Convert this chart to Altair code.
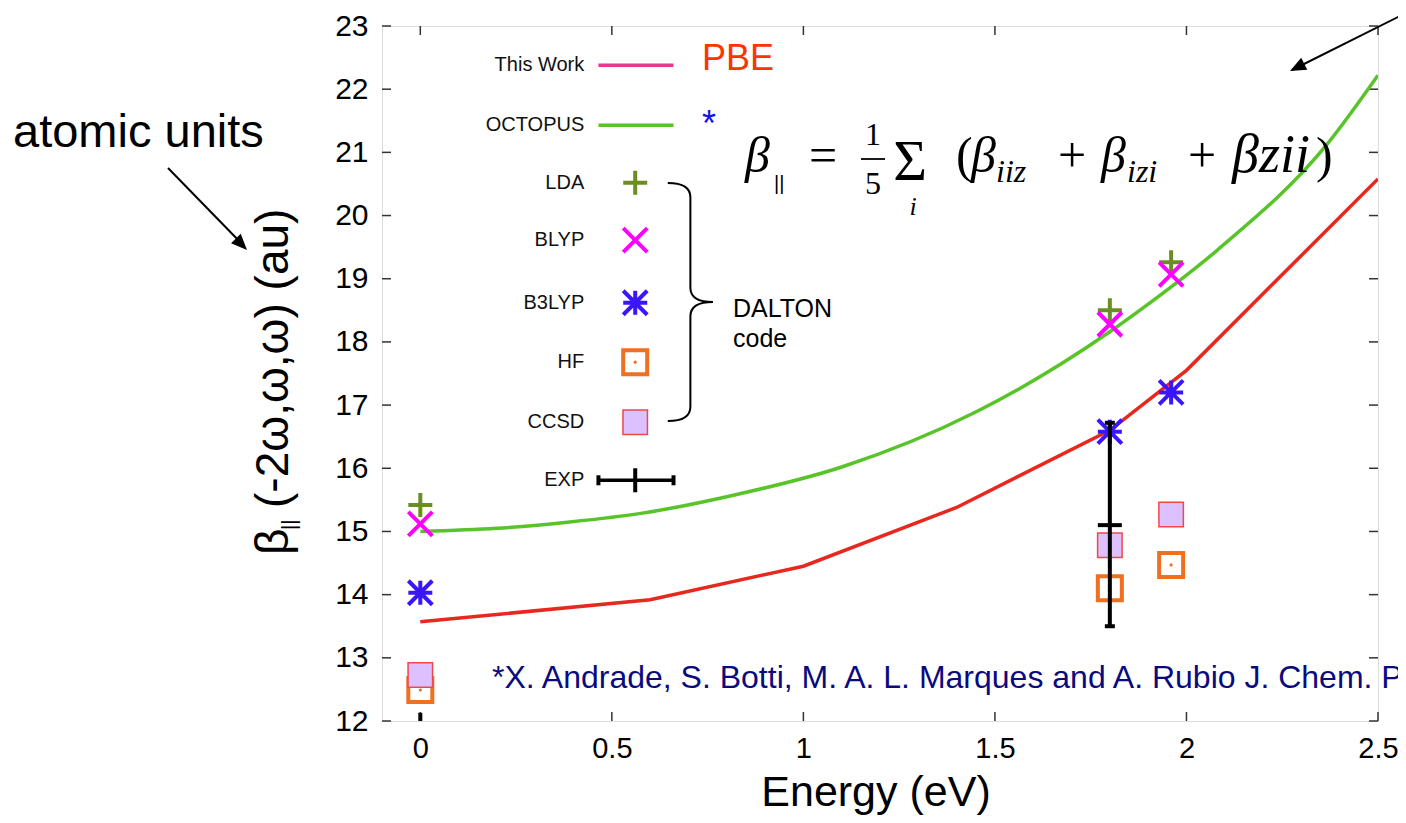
import altair as alt
import pandas as pd

# ---------------- data ----------------
pbe_x = [0.0, 0.6, 1.0, 1.4, 1.8, 2.0, 2.5]
pbe_y = [13.57, 13.92, 14.45, 15.38, 16.6, 17.55, 20.58]

oct_x = [0.0, 0.2, 0.39, 0.58, 0.8, 1.1, 1.45, 1.8, 1.885, 2.08, 2.37, 2.5]
oct_y = [15.0, 15.05, 15.15, 15.29, 15.55, 16.02, 16.89, 18.16, 18.53, 19.45, 21.15, 22.22]

dalton_x = [0.0, 1.8, 1.96]
lda_y = [15.42, 18.5, 19.26]
blyp_y = [15.12, 18.28, 19.07]
b3lyp_y = [14.03, 16.58, 17.2]
hf_y = [12.49, 14.1, 14.47]
ccsd_y = [12.73, 14.78, 15.27]

exp_x = [1.8]
exp_y = [15.1]
exp_lo = [13.5]
exp_hi = [16.72]
exp0_x = [0.0]
exp0_lo = [12.0]
exp0_hi = [12.13]

x_ticks = [0, 0.5, 1, 1.5, 2, 2.5]
y_ticks = list(range(12, 24))

legend_labels = ["This Work", "OCTOPUS", "LDA", "BLYP", "B3LYP", "HF", "CCSD", "EXP"]
legend_y = [22.38, 21.43, 20.52, 19.61, 18.62, 17.68, 16.73, 15.81]
legend_label_x = 0.428
legend_sym_x = 0.561
legend_line_x0 = 0.465
legend_line_x1 = 0.661

# ---------------- styling ----------------
SANS = "Liberation Sans"
SERIF = "Liberation Serif"
OX, OY = 382, 26          # page position of plot origin
W, H = 996, 695

RED = "#e8281e"
GREEN = "#58c42a"
PINK = "#e8388c"
OLIVE = "#6b8e23"
MAGENTA = "#ff00ff"
BLUE = "#3a16ff"
ORANGE = "#ee7020"
LAVENDER = "#dcc0ff"
CCSD_EDGE = "#ee4848"

PLUS = "M -1 0 L 1 0 M 0 -1 L 0 1"
CROSS = "M -1 -1 L 1 1 M -1 1 L 1 -1"
STAR = PLUS + " " + CROSS
HBAR = "M -1 0 L 1 0"
VBAR = "M 0 -1 L 0 1"
BRACE = ("M -0.38 -1 Q -0.19 -1 -0.19 -0.88 L -0.19 -0.12 Q -0.19 0 0 0 "
         "Q -0.19 0 -0.19 0.12 L -0.19 0.88 Q -0.19 1 -0.38 1")
ARROWHEAD = "M 0 0 L -1 -0.42 L -1 0.42 Z"

XS = alt.Scale(domain=[-0.1, 2.5], nice=False, zero=False)
YS = alt.Scale(domain=[12, 23], nice=False, zero=False)
XAX = alt.Axis(values=x_ticks, format="~g", title=None, grid=False, domain=False, ticks=False,
               labelFontSize=29, labelFont=SANS, labelColor="black", labelPadding=13,
               labelFlush=False, labelOverlap=False)
YAX = alt.Axis(values=y_ticks, format="d", title=None, grid=False, domain=False, ticks=False,
               labelFontSize=30, labelFont=SANS, labelColor="black", labelPadding=14,
               labelOverlap=False)


def X(f="x"):
    return alt.X(f"{f}:Q", scale=XS, axis=XAX)


def Y(f="y"):
    return alt.Y(f"{f}:Q", scale=YS, axis=YAX)


def pts(xs, ys, shape, color, size=576, sw=4, filled=False, fill=None):
    df = pd.DataFrame({"x": xs, "y": ys})
    kw = dict(shape=shape, size=size, strokeWidth=sw, opacity=1, filled=filled)
    if filled:
        kw.update(fill=fill, stroke=color)
    else:
        kw.update(color=color)
    return alt.Chart(df).mark_point(**kw).encode(x=X(), y=Y())


def ptxt(text, px, py, size, color="black", align="left", baseline="alphabetic",
         angle=0, font=SANS, style="normal"):
    return alt.Chart(alt.Data(values=[{"t": text}])).mark_text(
        align=align, baseline=baseline, angle=angle, font=font, fontStyle=style,
        fontSize=size, color=color
    ).encode(x=alt.value(px - OX), y=alt.value(py - OY), text="t:N")


def prule(x0, y0, x1, y1, sw=2, color="black"):
    return alt.Chart(alt.Data(values=[{}])).mark_rule(color=color, strokeWidth=sw).encode(
        x=alt.value(x0 - OX), y=alt.value(y0 - OY), x2=alt.value(x1 - OX), y2=alt.value(y1 - OY))


def pshape(px, py, shape, size, angle=0, filled=True, color="black", sw=2):
    return alt.Chart(alt.Data(values=[{}])).mark_point(
        shape=shape, size=size, angle=angle, filled=filled, color=color,
        strokeWidth=sw, opacity=1
    ).encode(x=alt.value(px - OX), y=alt.value(py - OY))


layers = []

# inward ticks on all four sides
yt = pd.DataFrame({"y": y_ticks})
xt = pd.DataFrame({"x": x_ticks})
TC = "#333333"
layers.append(alt.Chart(yt).mark_rule(color=TC, strokeWidth=1.5).encode(
    y=Y(), x=alt.value(0), x2=alt.value(9)))
layers.append(alt.Chart(yt).mark_rule(color=TC, strokeWidth=1.5).encode(
    y=Y(), x=alt.value(W - 9), x2=alt.value(W)))
layers.append(alt.Chart(xt).mark_rule(color=TC, strokeWidth=1.5).encode(
    x=X(), y=alt.value(H - 9), y2=alt.value(H)))
layers.append(alt.Chart(xt).mark_rule(color=TC, strokeWidth=1.5).encode(
    x=X(), y=alt.value(0), y2=alt.value(9)))

# curves
layers.append(alt.Chart(pd.DataFrame({"x": pbe_x, "y": pbe_y})).mark_line(
    color=RED, strokeWidth=3.5, clip=True).encode(x=X(), y=Y()))
layers.append(alt.Chart(pd.DataFrame({"x": oct_x, "y": oct_y})).mark_line(
    color=GREEN, strokeWidth=3.5, interpolate="monotone", clip=True).encode(x=X(), y=Y()))

# DALTON points
layers.append(pts(dalton_x, lda_y, PLUS, OLIVE))
layers.append(pts(dalton_x, blyp_y, CROSS, MAGENTA))
layers.append(pts(dalton_x, b3lyp_y, STAR, BLUE))
layers.append(pts(dalton_x, hf_y, "square", ORANGE, size=576, sw=4))
layers.append(pts(dalton_x, hf_y, "circle", ORANGE, size=10, sw=0, filled=True, fill=ORANGE))
layers.append(pts(dalton_x, ccsd_y, "square", CCSD_EDGE, size=600, sw=1.5, filled=True, fill=LAVENDER))

# experiment
dexp = pd.DataFrame({"x": exp_x, "y": exp_y, "lo": exp_lo, "hi": exp_hi})
layers.append(alt.Chart(dexp).mark_rule(color="black", strokeWidth=4).encode(
    x=X(), y=Y("lo"), y2="hi:Q"))
layers.append(pts(exp_x, exp_lo, HBAR, "black", size=100, sw=4))
layers.append(pts(exp_x, exp_hi, HBAR, "black", size=100, sw=4))
layers.append(pts(exp_x, exp_y, HBAR, "black", size=576, sw=4))
dexp0 = pd.DataFrame({"x": exp0_x, "lo": exp0_lo, "hi": exp0_hi})
layers.append(alt.Chart(dexp0).mark_rule(color="black", strokeWidth=4).encode(
    x=X(), y=Y("lo"), y2="hi:Q"))

# ---------------- in-plot legend ----------------
dleg = pd.DataFrame({"x": [legend_label_x] * len(legend_labels), "y": legend_y, "t": legend_labels})
layers.append(alt.Chart(dleg).mark_text(align="right", baseline="middle", fontSize=20,
                                        font=SANS, color="#111111").encode(x=X(), y=Y(), text="t:N"))
dl_line = pd.DataFrame({"x": [legend_line_x0], "x2": [legend_line_x1], "y": [legend_y[0]]})
layers.append(alt.Chart(dl_line).mark_rule(color=PINK, strokeWidth=3.5).encode(
    x=X(), x2="x2:Q", y=Y()))
dl_line2 = pd.DataFrame({"x": [legend_line_x0], "x2": [legend_line_x1], "y": [legend_y[1]]})
layers.append(alt.Chart(dl_line2).mark_rule(color=GREEN, strokeWidth=3.5).encode(
    x=X(), x2="x2:Q", y=Y()))
layers.append(pts([legend_sym_x], [legend_y[2]], PLUS, OLIVE))
layers.append(pts([legend_sym_x], [legend_y[3]], CROSS, MAGENTA))
layers.append(pts([legend_sym_x], [legend_y[4]], STAR, BLUE))
layers.append(pts([legend_sym_x], [legend_y[5]], "square", ORANGE, size=576, sw=4))
layers.append(pts([legend_sym_x], [legend_y[5]], "circle", ORANGE, size=10, sw=0, filled=True, fill=ORANGE))
layers.append(pts([legend_sym_x], [legend_y[6]], "square", CCSD_EDGE, size=600, sw=1.5, filled=True, fill=LAVENDER))
dl_exp = pd.DataFrame({"x": [legend_line_x0], "x2": [legend_line_x1], "y": [legend_y[7]]})
layers.append(alt.Chart(dl_exp).mark_rule(color="black", strokeWidth=3.5).encode(
    x=X(), x2="x2:Q", y=Y()))
layers.append(pts([legend_line_x0, legend_line_x1], [legend_y[7]] * 2, VBAR, "black", size=100, sw=4))
layers.append(pts([legend_sym_x], [legend_y[7]], VBAR, "black", size=576, sw=4))

# ---------------- annotations ----------------
layers.append(ptxt("PBE", 702, 70, 36, color="#ff3300"))
layers.append(ptxt("*", 702, 136, 36, color="#1010ee"))
layers.append(pshape(713, 302, BRACE, 56644, filled=False, sw=2))
layers.append(ptxt("DALTON", 733, 317, 25))
layers.append(ptxt("code", 733, 347, 25))
layers.append(ptxt("*X. Andrade, S. Botti, M. A. L. Marques and A. Rubio J. Chem. Phys.",
                   492, 688, 32, color="#0a0a80"))

# formula
FB = 172
FS = 50
SS = 32
layers.append(ptxt("β", 745, FB, FS, font=SERIF, style="italic"))
layers.append(ptxt("||", 774, FB + 18, 20, font=SANS))
layers.append(ptxt("=", 823, FB, FS, align="center", font=SERIF))
layers.append(ptxt("1", 873, 145, 32, align="center", font=SERIF))
layers.append(prule(861, 159, 885, 159, sw=1.8))
layers.append(ptxt("5", 873, 194, 32, align="center", font=SERIF))
layers.append(ptxt("Σ", 910, 180, 58, align="center", font=SERIF))
layers.append(ptxt("i", 913, 215, 26, align="center", font=SERIF, style="italic"))
layers.append(ptxt("(", 956, FB, FS, font=SERIF))
layers.append(ptxt("β", 971, FB, FS, font=SERIF, style="italic"))
layers.append(ptxt("iiz", 996, FB + 10, SS, font=SERIF, style="italic"))
layers.append(ptxt("+", 1072, FB, FS, align="center", font=SERIF))
layers.append(ptxt("β", 1101, FB, FS, font=SERIF, style="italic"))
layers.append(ptxt("izi", 1127, FB + 10, SS, font=SERIF, style="italic"))
layers.append(ptxt("+", 1202, FB, FS, align="center", font=SERIF))
layers.append(ptxt("βzii", 1232, FB, 54, font=SERIF, style="italic"))
layers.append(ptxt(")", 1316, FB, FS, font=SERIF))

# arrows
layers.append(prule(1420, 6, 1292, 70, sw=2))
layers.append(pshape(1290, 71, ARROWHEAD, 1024, angle=153))
layers.append(prule(168, 168, 244, 246, sw=2))
layers.append(pshape(247, 250, ARROWHEAD, 1024, angle=46))

# outer texts
layers.append(ptxt("atomic units", 13, 147, 47))
layers.append(ptxt("Energy (eV)", 876, 806, 43, align="center"))
layers.append(ptxt("β", 288, 555, 46, angle=270))
layers.append(ptxt("||", 296, 530, 20, angle=270))
layers.append(ptxt("(-2ω,ω,ω) (au)", 288, 508, 46, angle=270))

chart = alt.layer(*layers).properties(
    width=W, height=H,
    autosize=alt.AutoSizeParams(type="none"),
    padding={"left": OX - 8, "top": OY - 8, "right": 20, "bottom": 94},
).configure_view(stroke="#333333", strokeWidth=1.5).configure(background="white")

chart.save("out.html", embed_options={"renderer": "svg", "actions": False})
